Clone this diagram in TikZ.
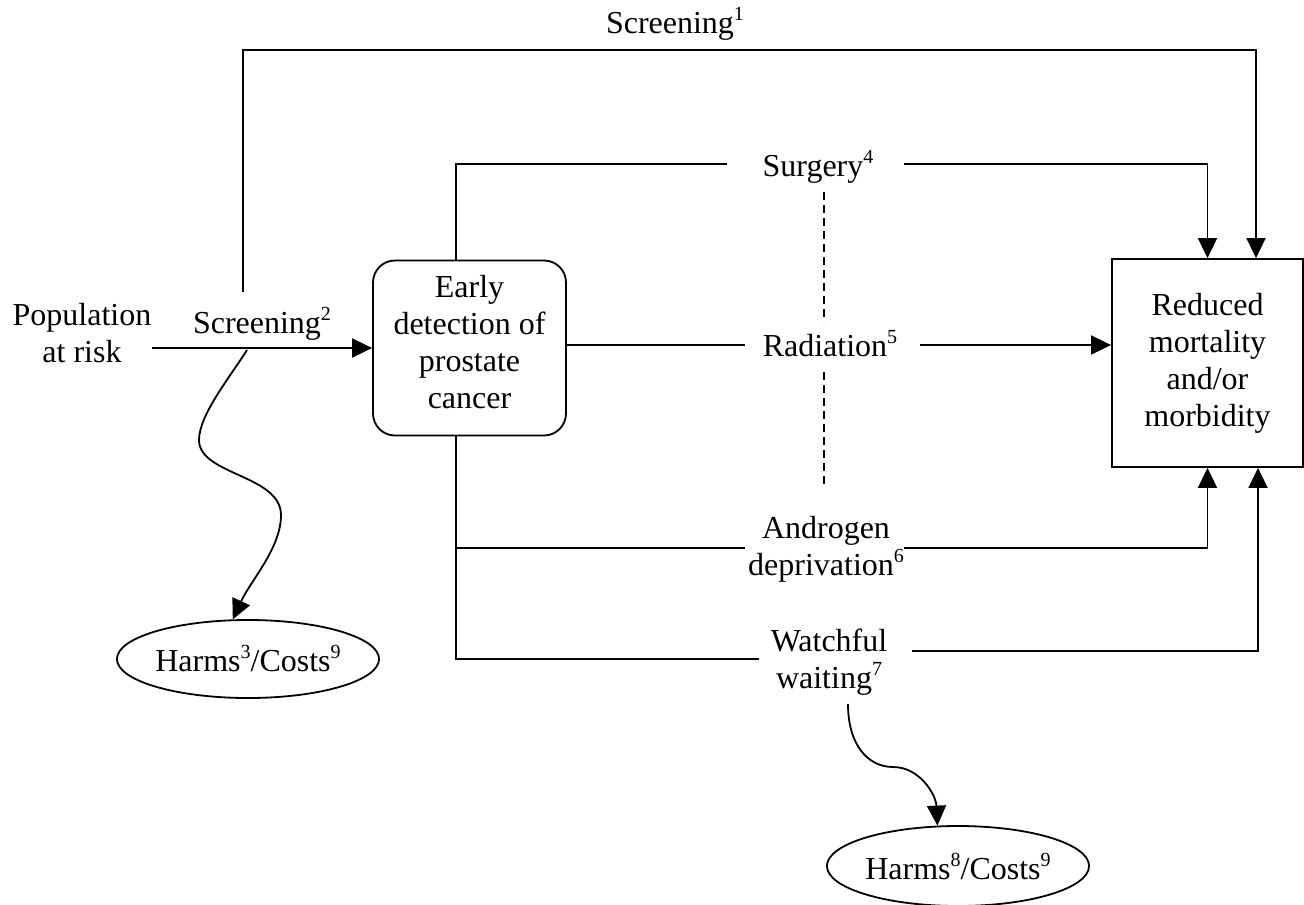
\documentclass[tikz,border=0pt]{standalone}
\usepackage{fontspec}
\setmainfont{Liberation Serif}
\usetikzlibrary{arrows.meta,shapes.geometric,calc}
\newcommand\sups[1]{\raisebox{13pt}{\fontsize{20pt}{20pt}\selectfont #1}}
\begin{document}
\begin{tikzpicture}[x=1pt,y=-1pt,
  every node/.style={font=\fontsize{32pt}{37pt}\selectfont, inner sep=0pt},
  line/.style={line width=1.8pt},
  arr/.style={line width=1.8pt,-{Triangle[length=20pt,width=19pt]}},
  dash line/.style={line width=1.6pt, dash pattern=on 8pt off 5pt},
  lbl/.style={align=center, anchor=base},
  rbox/.style={draw, line width=1.8pt, align=center},
  oval/.style={draw, line width=1.8pt, ellipse}]
\useasboundingbox (0,0) rectangle (1304,905);

% nodes (anchor=base of a multi-line label is the baseline of its last line)
\node[lbl] (s1) at (675,33) {Screening\sups{1}};
\node[lbl] (pop) at (82,362) {Population\\at risk};
\node[lbl] (s2) at (262,333) {Screening\sups{2}};
\node[rbox, rounded corners=22pt, minimum width=193pt, minimum height=175pt] (ed) at (469.5,348)
  {Early\\detection of\\prostate\\cancer\rule[-12pt]{0pt}{0pt}};
\node[rbox, minimum width=191pt, minimum height=208pt] (red) at (1207.5,363)
  {Reduced\\mortality\\and/or\\morbidity};
\node[lbl] (sur) at (818,176) {Surgery\sups{4}};
\node[lbl] (rad) at (830,356) {Radiation\sups{5}};
\node[lbl] (andr) at (826,575) {Androgen\\deprivation\sups{6}};
\node[lbl] (wat) at (829,688) {Watchful\\waiting\sups{7}};
\node[oval, minimum width=258pt, minimum height=78pt] (h1) at (248,659) {Harms\sups{3}/Costs\sups{9}};
\node[oval, minimum width=260pt, minimum height=80pt] (h2) at (958,866) {Harms\sups{8}/Costs\sups{9}};

% helper coordinates
\coordinate (c1) at (243,292);
\coordinate (tr) at (1256,50);
\coordinate (sL) at (456,164);
\coordinate (ry) at (0,345);
\coordinate (ay) at (0,548);
\coordinate (wyL) at (0,659);
\coordinate (wr) at (1258,651);
\coordinate (cs) at (247,350);
\coordinate (cw) at (848,704);
\coordinate (d1) at (824,192);
\coordinate (d2) at (824,322);
\coordinate (d3) at (824,372);
\coordinate (d4) at (824,484);

% connectors
\draw[arr] (c1) |- (tr) -- (tr |- red.north);
\draw[arr] (pop.east |- ed.west) -- (ed.west);
\draw[line] (sL |- ed.north) -- (sL) -- ($(sur.west |- sL)+(-35,0)$);
\draw[arr] ($(sur.east |- sL)+(30,0)$) -| (red.north);
\draw[line] (ed.east |- ry) -- ($(rad.west |- ry)+(-18,0)$);
\draw[arr] ($(rad.east |- ry)+(23,0)$) -- (red.west |- ry);
\draw[dash line] (d1) -- (d2) (d3) -- (d4);
\draw[line] (sL |- ed.south) -- (sL |- wyL) -- ($(wat.west |- wyL)+(-12,0)$);
\draw[line] (sL |- ay) -- ($(andr.west |- ay)+(-3,0)$);
\draw[arr] (andr.east |- ay) -| (red.south);
\draw[arr] ($(wat.east |- wr)+(25,0)$) -| (red.south -| wr);
\draw[arr] (cs) .. controls (230,377) and (199,415) .. (199,440)
  .. controls (199,475) and (281,475) .. (281,515)
  .. controls (281,548) and (251,580) .. (h1.111);
\draw[arr] (cw) .. controls (848,745) and (868,767) .. (893,767)
  .. controls (920,767) and (936,795) .. (h2.117);
\end{tikzpicture}
\end{document}
